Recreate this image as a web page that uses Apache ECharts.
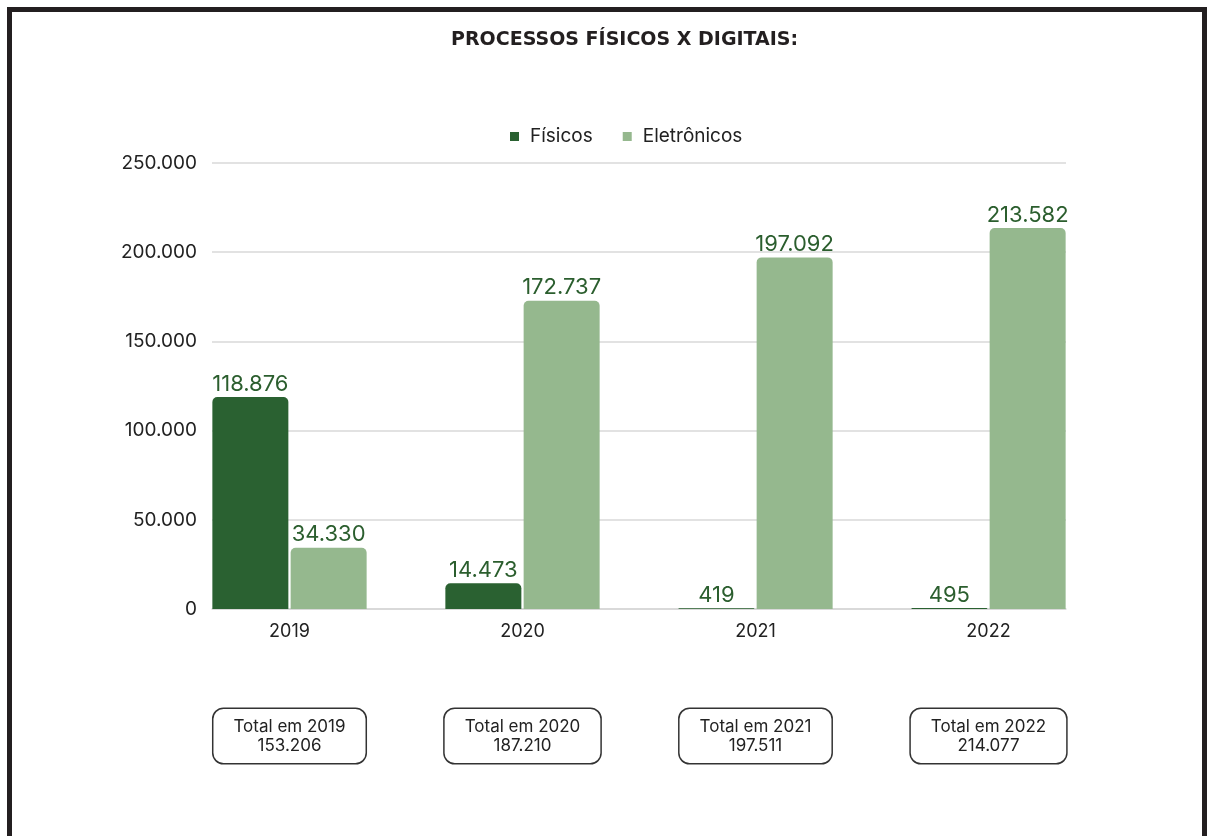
<!DOCTYPE html>
<html>
<head>
<meta charset="utf-8">
<script src="https://cdn.jsdelivr.net/npm/echarts@6/dist/echarts.min.js"></script>
<style>
	html, body { margin: 0; padding: 0; background: #fff; }
	#chart { width: 1207px; height: 836px; }
</style>
</head>
<body>
<div id="chart"></div>
<script>
// dados
const anos = ['2019', '2020', '2021', '2022'];
const fisicos = [118876, 14473, 419, 495];
const eletronicos = [34330, 172737, 197092, 213582];

const totais = anos.map((a, i) => fisicos[i] + eletronicos[i]);

function milhar (v) {
	return String(v).replace(/\B(?=(\d{3})+(?!\d))/g, '.');
}

const fonte = 'Inter, "Open Sans", sans-serif';
const verdeEscuro = '#2a6131';
const verdeClaro = '#95b88e';

const myChart = echarts.init(document.getElementById('chart'));
const option = {
	backgroundColor: '#fff',
	animation: false,
	textStyle: { fontFamily: fonte },
	title: {
		text: 'PROCESSOS FÍSICOS X DIGITAIS:',
		left: 446,
		top: 26,
		textStyle: {
			fontFamily: '"DejaVu Sans", Verdana, sans-serif',
			fontWeight: 'bold',
			fontSize: 19,
			color: '#231f20'
		}
	},
	legend: {
		top: 122,
		left: 505,
		icon: 'rect',
		itemWidth: 9,
		itemHeight: 9,
		itemGap: 30,
		textStyle: { fontFamily: fonte, fontSize: 19, color: '#222', padding: [0, 0, 0, 6] },
		data: ['Físicos', 'Eletrônicos']
	},
	graphic: [{
		type: 'rect',
		shape: { x: 9.5, y: 9.5, width: 1195, height: 900 },
		style: { fill: 'none', stroke: '#231f20', lineWidth: 5 },
		z: 100
	}],
	grid: [
		// grade das linhas (mais estreita)
		{ left: 212, right: 141, top: 163, bottom: 227 },
		// grade das barras
		{ left: 173, right: 102, top: 163, bottom: 227 }
	],
	xAxis: [
		{
			type: 'category',
			gridIndex: 0,
			data: anos,
			axisLabel: { show: false },
			axisTick: { show: false },
			axisLine: { show: true, lineStyle: { color: '#d6d6d6', width: 1.5 } }
		},
		{
			type: 'category',
			gridIndex: 1,
			position: 'bottom',
			data: anos,
			axisTick: { show: false },
			axisLine: { show: false },
			axisLabel: { margin: 14, fontSize: 18, color: '#222', fontFamily: fonte }
		},
		{
			type: 'category',
			gridIndex: 1,
			position: 'bottom',
			data: anos,
			axisTick: { show: false },
			axisLine: { show: false },
			axisLabel: {
				margin: 100,
				fontSize: 17,
				lineHeight: 19,
				color: '#222',
				fontFamily: fonte,
				borderColor: '#333',
				borderWidth: 1.5,
				borderRadius: 10,
				padding: [8, 20, 8, 20],
				backgroundColor: '#fff',
				formatter: function (v, i) {
					return 'Total em ' + v + '\n' + milhar(totais[i]);
				}
			}
		}
	],
	yAxis: [
		{
			type: 'value',
			gridIndex: 0,
			min: 0,
			max: 250000,
			interval: 50000,
			axisLine: { show: false },
			axisTick: { show: false },
			axisLabel: {
				margin: 15,
				fontSize: 19,
				color: '#222',
				fontFamily: fonte,
				formatter: milhar
			},
			splitLine: { lineStyle: { color: '#d9d9d9', width: 1.5 } }
		},
		{
			type: 'value',
			gridIndex: 1,
			min: 0,
			max: 250000,
			interval: 50000,
			show: false,
			splitLine: { show: false }
		}
	],
	series: [
		{
			name: 'Físicos',
			type: 'bar',
			xAxisIndex: 1,
			yAxisIndex: 1,
			barWidth: 76,
			barGap: '3%',
			itemStyle: { color: verdeEscuro, borderRadius: [5, 5, 0, 0] },
			label: {
				show: true,
				position: 'top',
				distance: 2,
				fontSize: 22,
				color: '#2b5e2e',
				fontFamily: fonte,
				formatter: p => milhar(p.value)
			},
			data: fisicos
		},
		{
			name: 'Eletrônicos',
			type: 'bar',
			xAxisIndex: 1,
			yAxisIndex: 1,
			barWidth: 76,
			itemStyle: { color: verdeClaro, borderRadius: [5, 5, 0, 0] },
			label: {
				show: true,
				position: 'top',
				distance: 2,
				fontSize: 22,
				color: '#2b5e2e',
				fontFamily: fonte,
				formatter: p => milhar(p.value)
			},
			data: eletronicos
		}
	]
};
myChart.setOption(option);
</script>
</body>
</html>
